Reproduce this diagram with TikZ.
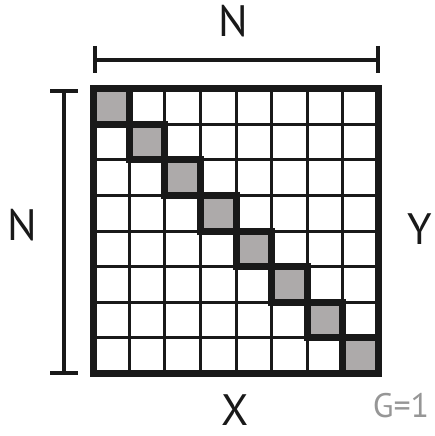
\documentclass[tikz,border=0pt]{standalone}
\usepackage{fontspec}
\setmainfont{PT Sans}
\usetikzlibrary{calc}
\definecolor{cellgray}{RGB}{173,170,170}
\definecolor{labelgray}{RGB}{150,150,150}

\begin{document}
\begin{tikzpicture}[x=1pt, y=-1pt,
  gridline/.style={line width=3pt, draw=black!90},
  boxline/.style={line width=7pt, draw=black!90},
  bracket/.style={line width=4.5pt, draw=black!90},
  lbl/.style={font=\fontsize{44}{44}\selectfont, text=black!90, inner sep=0pt}]
  \useasboundingbox (0,0) rectangle (434,436);
  \def\cell{35.625}
  \coordinate (O) at (93.5,88.5);           % linke obere Ecke des Gitters
  \coordinate (E) at ($(O)+(8*\cell,8*\cell)$);

  % Diagonale fuellen
  \foreach \i in {0,...,7}
    \fill[cellgray] ($(O)+(\i*\cell,\i*\cell)$) rectangle ++(\cell,\cell);

  % innere Linien
  \foreach \i in {1,...,7} {
    \draw[gridline] ($(O)+(\i*\cell,0)$) -- ($(O)+(\i*\cell,8*\cell)$);
    \draw[gridline] ($(O)+(0,\i*\cell)$) -- ($(O)+(8*\cell,\i*\cell)$);
  }

  % Rahmen um die Diagonalzellen
  \foreach \i in {0,...,7}
    \draw[boxline] ($(O)+(\i*\cell,\i*\cell)$) rectangle ++(\cell,\cell);
  \draw[boxline] (O) rectangle (E);

  % Klammer oben
  \coordinate (T1) at (95,60);
  \coordinate (T2) at (378,60);
  \draw[bracket] (T1) -- (T2);
  \draw[bracket] ($(T1)+(0,-14)$) -- ($(T1)+(0,13)$);
  \draw[bracket] ($(T2)+(0,-14)$) -- ($(T2)+(0,13)$);

  % Klammer links
  \coordinate (L1) at (64,91);
  \coordinate (L2) at (64,373);
  \draw[bracket] (L1) -- (L2);
  \draw[bracket] ($(L1)+(-14,0)$) -- ($(L1)+(14,0)$);
  \draw[bracket] ($(L2)+(-14,0)$) -- ($(L2)+(14,0)$);

  \node[lbl] (ntop)  at (233.5,21.5) {N};
  \node[lbl] (nleft) at (22,225)     {N};
  \node[lbl] (ylab)  at (420,229)    {Y};
  \node[lbl] (xlab)  at (235.5,410)  {X};
  \node[lbl, font=\fontsize{34}{34}\selectfont, text=labelgray] (glab) at (401,406) {G=1};
\end{tikzpicture}
\end{document}
